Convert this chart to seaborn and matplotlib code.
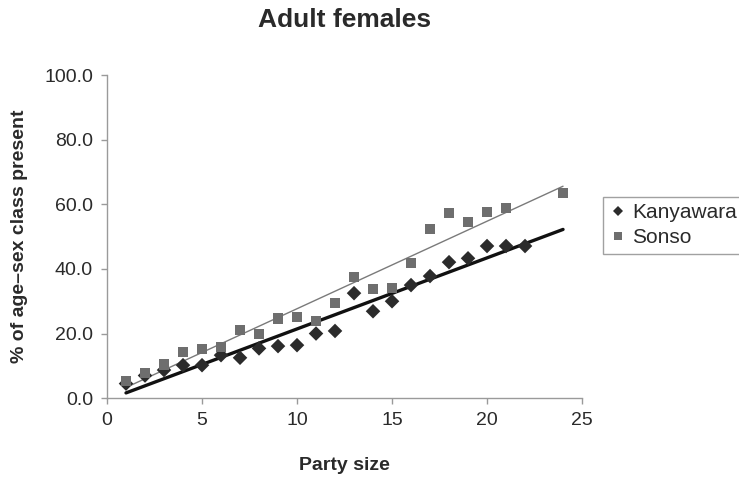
"""
Adult females: % of age-sex class present vs party size, Kanyawara vs Sonso.
"""
import matplotlib
import numpy as np
import pandas as pd
import seaborn as sns

matplotlib.use("Agg")
import matplotlib.pyplot as plt

# Valores
kanyawara_size = [1, 2, 3, 4, 5, 6, 7, 8, 9, 10, 11, 12, 13, 14, 15, 16, 17, 18, 19, 20, 21, 22]
kanyawara_pct = [4.5, 7.0, 8.7, 10.2, 10.2, 13.3, 12.5, 15.4, 16.1, 16.4, 20.0, 20.8,
                 32.5, 26.9, 30.0, 35.0, 37.8, 42.1, 43.3, 47.1, 47.1, 47.1]

sonso_size = [1, 2, 3, 4, 5, 6, 7, 8, 9, 10, 11, 12, 13, 14, 15, 16, 17, 18, 19, 20, 21, 24]
sonso_pct = [5.2, 7.8, 10.4, 14.3, 15.2, 15.9, 21.0, 19.8, 24.7, 25.2, 23.8, 29.5,
             37.5, 33.7, 34.1, 41.8, 52.3, 57.3, 54.5, 57.6, 58.8, 63.5]

x_ticks = [0, 5, 10, 15, 20, 25]
y_ticks = [0, 20, 40, 60, 80, 100]

TEXT = "#2a2a2a"
AXIS = "#9a9a9a"


def main() -> None:
    sns.set_theme(style="white")
    plt.rcParams["font.family"] = ["Liberation Sans", "DejaVu Sans"]

    df = pd.concat([
        pd.DataFrame({"size": kanyawara_size, "pct": kanyawara_pct, "site": "Kanyawara"}),
        pd.DataFrame({"size": sonso_size, "pct": sonso_pct, "site": "Sonso"}),
    ])

    fig = plt.figure(figsize=(7.39, 4.82), dpi=100)
    ax = fig.add_axes([0.1448, 0.174, 0.6428, 0.670])

    sns.scatterplot(
        data=df, x="size", y="pct", hue="site", style="site",
        markers={"Kanyawara": "D", "Sonso": "s"},
        palette={"Kanyawara": "#2b2b2b", "Sonso": "#6e6e6e"},
        s=55, linewidth=0, ax=ax, zorder=3,
    )

    # linhas de tendência (regressão linear) no intervalo de tamanhos
    x_line = np.array([min(df["size"]), max(df["size"])])
    for xs, ys, color, lw in [
        (kanyawara_size, kanyawara_pct, "#111111", 2.4),
        (sonso_size, sonso_pct, "#7a7a7a", 1.0),
    ]:
        slope, intercept = np.polyfit(xs, ys, 1)
        ax.plot(x_line, slope * x_line + intercept, color=color, lw=lw, zorder=2)

    ax.set_xlim(0, 25)
    ax.set_ylim(0, 100)
    ax.set_xticks(x_ticks)
    ax.set_yticks(y_ticks)
    ax.set_yticklabels([f"{v:.1f}" for v in y_ticks])

    sns.despine(ax=ax)
    for side in ["left", "bottom"]:
        ax.spines[side].set_color(AXIS)
        ax.spines[side].set_linewidth(1.0)
    ax.tick_params(axis="both", direction="out", length=4, width=1, color=AXIS,
                   labelsize=14, labelcolor=TEXT, pad=6, left=True, bottom=True)

    ax.set_xlabel("Party size", fontsize=14, fontweight="bold", color=TEXT, labelpad=20)
    ax.set_ylabel("% of age\u2013sex class present", fontsize=14, fontweight="bold",
                  color=TEXT, labelpad=12)
    ax.set_title("Adult females", fontsize=19, fontweight="bold", color=TEXT, pad=35)

    handles, labels = ax.get_legend_handles_labels()
    leg = ax.legend(handles, labels, loc="center left", bbox_to_anchor=(1.044, 0.535),
                    borderaxespad=0, frameon=True, fancybox=False, fontsize=15,
                    handlelength=0.8, handletextpad=0.3, borderpad=0.3,
                    labelspacing=0.3, markerscale=0.7)
    leg.get_frame().set_edgecolor("#8a8a8a")
    leg.get_frame().set_linewidth(1.0)
    for t in leg.get_texts():
        t.set_color(TEXT)

    fig.savefig("out.png", dpi=100)
    plt.close(fig)


if __name__ == "__main__":
    main()
